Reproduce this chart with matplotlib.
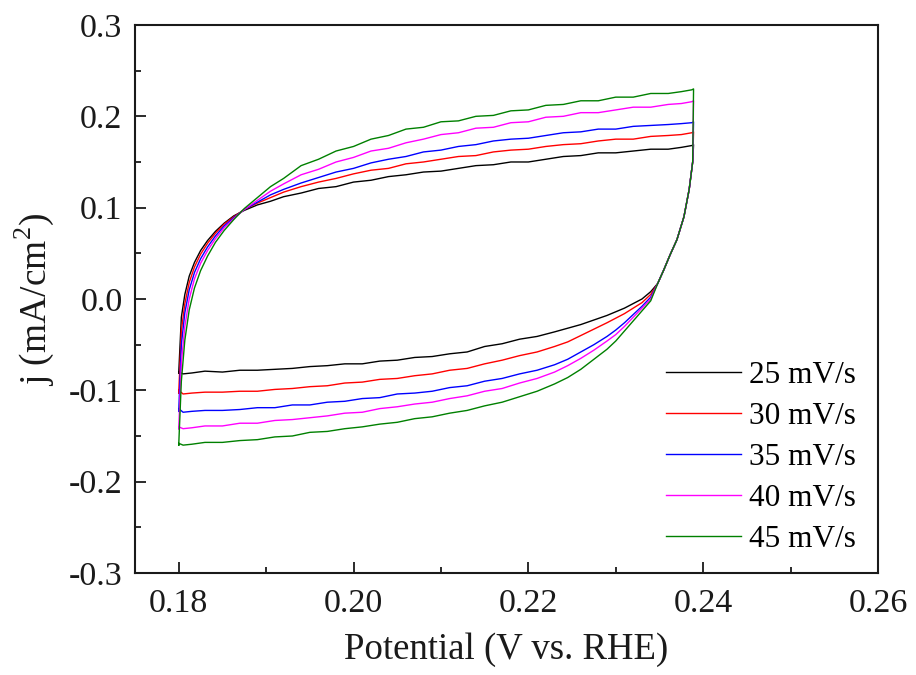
import matplotlib
matplotlib.use("Agg")
import matplotlib.pyplot as plt
from matplotlib.ticker import MultipleLocator, FormatStrFormatter

plt.rcParams['font.family'] = ['Liberation Serif', 'DejaVu Serif']
plt.rcParams['axes.unicode_minus'] = False
plt.rcParams['mathtext.fontset'] = 'custom'
plt.rcParams['mathtext.rm'] = 'Liberation Serif'

labels = ['25 mV/s', '30 mV/s', '35 mV/s', '40 mV/s', '45 mV/s']
colors = ['#000000', '#ff0000', '#0000ff', '#ff00ff', '#008000']

# anodic (upper) branch potentials
x_up = [0.1800, 0.1803, 0.1807, 0.1812, 0.1818, 0.1825, 0.1833, 0.1842, 0.1852,
        0.1863, 0.1875, 0.1890, 0.1905, 0.1920, 0.1940, 0.1960, 0.1980, 0.2000,
        0.2020, 0.2040, 0.2060, 0.2080, 0.2100, 0.2120, 0.2140, 0.2160, 0.2180,
        0.2200, 0.2220, 0.2240, 0.2260, 0.2280, 0.2300, 0.2320, 0.2340, 0.2360,
        0.2375, 0.2387]
j_up_25 = [-0.081, -0.020, 0.005, 0.025, 0.040, 0.053, 0.064, 0.074, 0.083,
           0.091, 0.097, 0.103, 0.107, 0.112, 0.116, 0.121, 0.123, 0.128,
           0.130, 0.134, 0.136, 0.139, 0.140, 0.143, 0.146, 0.147, 0.150,
           0.150, 0.153, 0.156, 0.157, 0.160, 0.160, 0.162, 0.164, 0.164,
           0.166, 0.168]
j_up_30 = [-0.103, -0.035, -0.005, 0.018, 0.035, 0.049, 0.061, 0.072, 0.082,
           0.090, 0.098, 0.105, 0.111, 0.117, 0.123, 0.128, 0.132, 0.137,
           0.141, 0.143, 0.148, 0.150, 0.153, 0.156, 0.157, 0.161, 0.163,
           0.164, 0.167, 0.169, 0.170, 0.173, 0.175, 0.175, 0.178, 0.179,
           0.180, 0.182]
j_up_35 = [-0.123, -0.050, -0.015, 0.010, 0.029, 0.044, 0.057, 0.069, 0.080,
           0.089, 0.098, 0.106, 0.114, 0.120, 0.127, 0.133, 0.139, 0.143,
           0.149, 0.153, 0.156, 0.161, 0.163, 0.167, 0.169, 0.173, 0.175,
           0.176, 0.179, 0.182, 0.183, 0.186, 0.186, 0.189, 0.190, 0.191,
           0.192, 0.193]
j_up_40 = [-0.142, -0.070, -0.030, 0.000, 0.022, 0.039, 0.053, 0.066, 0.078,
           0.088, 0.098, 0.108, 0.118, 0.126, 0.136, 0.142, 0.150, 0.155,
           0.162, 0.165, 0.171, 0.175, 0.180, 0.182, 0.187, 0.188, 0.193,
           0.194, 0.199, 0.200, 0.204, 0.204, 0.207, 0.210, 0.210, 0.213,
           0.214, 0.216]
j_up_45 = [-0.160, -0.090, -0.045, -0.012, 0.012, 0.031, 0.047, 0.062, 0.075,
           0.087, 0.099, 0.111, 0.123, 0.132, 0.146, 0.153, 0.162, 0.167,
           0.175, 0.179, 0.186, 0.188, 0.194, 0.195, 0.200, 0.201, 0.206,
           0.207, 0.212, 0.213, 0.217, 0.217, 0.221, 0.221, 0.225, 0.225,
           0.227, 0.229]

# reversal at the positive vertex (shared steep part)
x_rev = [0.2389, 0.2388, 0.2384, 0.2378, 0.2370, 0.2362, 0.2355, 0.2348]
j_rev_tail = [0.150, 0.120, 0.090, 0.065, 0.048, 0.032, 0.017]
j_top = [0.169, 0.183, 0.194, 0.217, 0.230]

# cathodic (lower) branch potentials
x_lo = [0.2340, 0.2330, 0.2320, 0.2310, 0.2300, 0.2290, 0.2275, 0.2260, 0.2245,
        0.2230, 0.2210, 0.2190, 0.2170, 0.2150, 0.2130, 0.2110, 0.2090, 0.2070,
        0.2050, 0.2030, 0.2010, 0.1990, 0.1970, 0.1950, 0.1930, 0.1910, 0.1890,
        0.1870, 0.1850, 0.1830, 0.1815, 0.1805, 0.1800]
j_lo_25 = [0.008, 0.000, -0.005, -0.010, -0.014, -0.018, -0.023, -0.028, -0.032,
           -0.036, -0.041, -0.044, -0.049, -0.052, -0.058, -0.060, -0.063, -0.064,
           -0.067, -0.068, -0.071, -0.071, -0.073, -0.074, -0.076, -0.077, -0.078,
           -0.078, -0.080, -0.079, -0.081, -0.082, -0.080]
j_lo_30 = [0.005, -0.004, -0.010, -0.016, -0.021, -0.026, -0.033, -0.040, -0.047,
           -0.052, -0.058, -0.062, -0.067, -0.071, -0.076, -0.078, -0.082, -0.084,
           -0.087, -0.088, -0.091, -0.092, -0.095, -0.096, -0.098, -0.099, -0.101,
           -0.101, -0.102, -0.102, -0.103, -0.104, -0.100]
j_lo_35 = [0.002, -0.008, -0.017, -0.026, -0.034, -0.041, -0.050, -0.058, -0.066,
           -0.072, -0.078, -0.082, -0.087, -0.090, -0.095, -0.097, -0.101, -0.103,
           -0.104, -0.108, -0.109, -0.112, -0.113, -0.116, -0.116, -0.119, -0.119,
           -0.121, -0.122, -0.122, -0.123, -0.124, -0.120]
j_lo_40 = [0.000, -0.010, -0.020, -0.030, -0.039, -0.046, -0.056, -0.065, -0.073,
           -0.080, -0.087, -0.092, -0.098, -0.101, -0.106, -0.109, -0.113, -0.115,
           -0.118, -0.120, -0.124, -0.125, -0.128, -0.130, -0.132, -0.133, -0.136,
           -0.136, -0.139, -0.139, -0.141, -0.142, -0.140]
j_lo_45 = [-0.002, -0.013, -0.024, -0.035, -0.046, -0.055, -0.066, -0.077, -0.086,
           -0.093, -0.101, -0.107, -0.113, -0.117, -0.122, -0.125, -0.129, -0.131,
           -0.135, -0.137, -0.140, -0.142, -0.145, -0.146, -0.150, -0.151, -0.154,
           -0.155, -0.157, -0.157, -0.159, -0.160, -0.158]

j_up = [j_up_25, j_up_30, j_up_35, j_up_40, j_up_45]
j_lo = [j_lo_25, j_lo_30, j_lo_35, j_lo_40, j_lo_45]

xticks = [0.18, 0.20, 0.22, 0.24, 0.26]
yticks = [-0.3, -0.2, -0.1, 0.0, 0.1, 0.2, 0.3]

fig = plt.figure(figsize=(9.16, 6.75), dpi=100)
ax = fig.add_axes([0.1474, 0.1511, 0.8111, 0.8119])

for i in range(5):
    xs = x_up + x_rev + x_lo + [x_up[0]]
    js = j_up[i] + [j_top[i]] + j_rev_tail + j_lo[i] + [j_up[i][0]]
    ax.plot(xs, js, color=colors[i], lw=1.0, label=labels[i])

ax.set_xlim(0.175, 0.26)
ax.set_ylim(-0.3, 0.3)
ax.set_xticks(xticks)
ax.set_yticks(yticks)
ax.xaxis.set_major_formatter(FormatStrFormatter('%.2f'))
ax.yaxis.set_major_formatter(FormatStrFormatter('%.1f'))
ax.xaxis.set_minor_locator(MultipleLocator(0.01))
ax.yaxis.set_minor_locator(MultipleLocator(0.05))
ax.tick_params(which='both', direction='in', top=False, right=False,
               width=1.3, labelsize=24.5, colors='#1a1a1a')
ax.tick_params(which='major', length=8)
ax.tick_params(which='minor', length=4)
ax.tick_params(axis='x', which='major', pad=11)
ax.tick_params(axis='y', which='major', pad=9)
for s in ax.spines.values():
    s.set_linewidth(1.5)
    s.set_color('#1a1a1a')

ax.set_xlabel('Potential (V vs. RHE)', fontsize=26.5, color='#1a1a1a', labelpad=10)
ax.set_ylabel('j (mA/cm$^2$)', fontsize=27, color='#1a1a1a', labelpad=9)

leg = ax.legend(loc='lower right', bbox_to_anchor=(0.987, 0.012), frameon=False,
                fontsize=22.5, handlelength=2.4, handletextpad=0.25,
                labelspacing=0.38, borderaxespad=0.0)

fig.savefig('out.png', dpi=100)
